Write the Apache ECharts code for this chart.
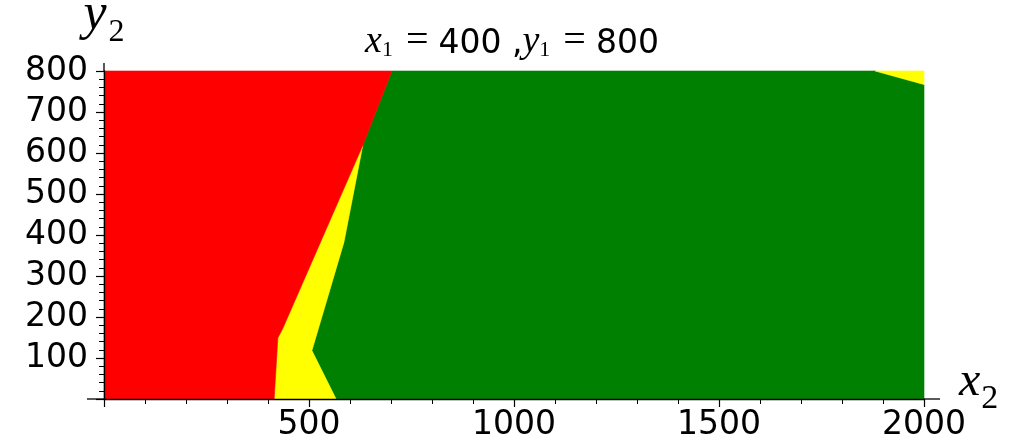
<!DOCTYPE html>
<html>
<head>
<meta charset="utf-8">
<script src="https://cdn.jsdelivr.net/npm/echarts@6/dist/echarts.min.js"></script>
<style>
  html, body { margin: 0; padding: 0; background: #fff; }
  #main { width: 1024px; height: 448px; }
</style>
</head>
<body>
<div id="main"></div>
<script>
// region outlines, in (x2, y2) data units
var redRegion = [[0, 0], [415, 0], [424, 149], [436, 172], [631, 618], [702, 800], [0, 800]];
var yellowRegion = [[415, 0], [424, 149], [436, 172], [631, 618], [585, 382], [507, 118], [566, 0]];
var greenRegion = [[566, 0], [507, 118], [585, 382], [631, 618], [702, 800], [1881, 800], [2000, 767], [2000, 0]];
var yellowCorner = [[1881, 800], [2000, 800], [2000, 767]];

var xTicks = [0, 500, 1000, 1500, 2000];
var yTicks = [0, 100, 200, 300, 400, 500, 600, 700, 800];

var myChart = echarts.init(document.getElementById('main'));

function regionSeries(name, pts, color, z) {
  return {
    type: 'custom',
    name: name,
    coordinateSystem: 'cartesian2d',
    data: [[pts[0][0], pts[0][1]]],
    silent: true,
    z: z,
    renderItem: function (params, api) {
      return {
        type: 'polygon',
        shape: { points: pts.map(function (p) { return api.coord(p); }) },
        style: { fill: color, stroke: color, lineWidth: 0.6 }
      };
    }
  };
}

var mathFont = 'Liberation Serif';
var option = {
  animation: false,
  title: {
    left: 'center',
    top: 16,
    text: '{m|x}{s|1}{e| = }{n|400 ,}{m|y}{s|1}{e| = }{n|800}',
    textStyle: {
      rich: {
        m: { fontFamily: mathFont, fontStyle: 'italic', fontWeight: 'normal', fontSize: 38, color: '#000', lineHeight: 40, verticalAlign: 'bottom' },
        s: { fontFamily: mathFont, fontWeight: 'normal', fontSize: 22, color: '#000', verticalAlign: 'bottom', lineHeight: 22, padding: [0, 3, 0, 0] },
        e: { fontFamily: mathFont, fontWeight: 'normal', fontSize: 40, color: '#000', lineHeight: 40, verticalAlign: 'bottom' },
        n: { fontFamily: 'DejaVu Sans', fontWeight: 'normal', fontSize: 33, color: '#000', lineHeight: 40, verticalAlign: 'bottom' }
      }
    }
  },
  grid: { left: 104, top: 71, width: 820, height: 328, containLabel: false, outerBoundsMode: 'none' },
  xAxis: {
    type: 'value',
    min: xTicks[0],
    max: xTicks[xTicks.length - 1],
    interval: 500,
    z: 5,
    name: '{v|x}{s|2}',
    nameLocation: 'end',
    nameGap: 35,
    nameMoveOverlap: false,
    nameTextStyle: {
      padding: [0, 0, 24, 0],
      rich: {
        v: { fontFamily: mathFont, fontStyle: 'italic', fontSize: 48, color: '#000', verticalAlign: 'bottom', padding: [0, 1, 10, 0] },
        s: { fontFamily: mathFont, fontSize: 34, color: '#000', verticalAlign: 'bottom' }
      }
    },
    axisLine: { lineStyle: { color: '#000', width: 1.3 } },
    axisTick: { length: 8, lineStyle: { color: '#000', width: 1.2 } },
    minorTick: { show: true, splitNumber: 5, length: 5, lineStyle: { color: '#000', width: 1 } },
    axisLabel: {
      color: '#000', fontFamily: 'DejaVu Sans', fontSize: 33, margin: 10,
      formatter: function (v) { return v === 0 ? '' : v; }
    },
    splitLine: { show: false }
  },
  yAxis: {
    type: 'value',
    min: yTicks[0],
    max: yTicks[yTicks.length - 1],
    interval: 100,
    z: 5,
    name: '{v|y}{s|2}',
    nameLocation: 'end',
    nameGap: 22,
    nameMoveOverlap: false,
    nameTextStyle: {
      rich: {
        v: { fontFamily: mathFont, fontStyle: 'italic', fontSize: 52, color: '#000', verticalAlign: 'bottom', padding: [0, 2, 8, 0] },
        s: { fontFamily: mathFont, fontSize: 32, color: '#000', verticalAlign: 'bottom' }
      }
    },
    axisLine: { show: true, lineStyle: { color: '#000', width: 1.3 } },
    axisTick: { show: true, length: 8, lineStyle: { color: '#000', width: 1.2 } },
    minorTick: { show: true, splitNumber: 5, length: 5, lineStyle: { color: '#000', width: 1 } },
    axisLabel: {
      color: '#000', fontFamily: 'DejaVu Sans', fontSize: 33, margin: 16,
      formatter: function (v) { return v === 0 ? '' : v; }
    },
    splitLine: { show: false }
  },
  series: [
    regionSeries('green', greenRegion, '#008000', 1),
    regionSeries('yellow', yellowRegion, '#ffff00', 2),
    regionSeries('yellowCorner', yellowCorner, '#ffff00', 2),
    regionSeries('red', redRegion, '#ff0000', 3)
  ]
};
myChart.setOption(option);

// the axis lines run a little past the plot box, as in the picture
var o = myChart.convertToPixel({ gridIndex: 0 }, [0, 0]);
var xr = myChart.convertToPixel({ gridIndex: 0 }, [2000, 0]);
var yt = myChart.convertToPixel({ gridIndex: 0 }, [0, 800]);
var axisStyle = { stroke: '#000', lineWidth: 1.3 };
myChart.setOption({
  graphic: [
    { type: 'line', z: 10, shape: { x1: o[0] - 17, y1: o[1], x2: o[0], y2: o[1] }, style: axisStyle },
    { type: 'line', z: 10, shape: { x1: xr[0], y1: xr[1], x2: xr[0] + 16, y2: xr[1] }, style: axisStyle },
    { type: 'line', z: 10, shape: { x1: yt[0], y1: yt[1] - 8, x2: yt[0], y2: yt[1] }, style: axisStyle }
  ]
});
</script>
</body>
</html>
